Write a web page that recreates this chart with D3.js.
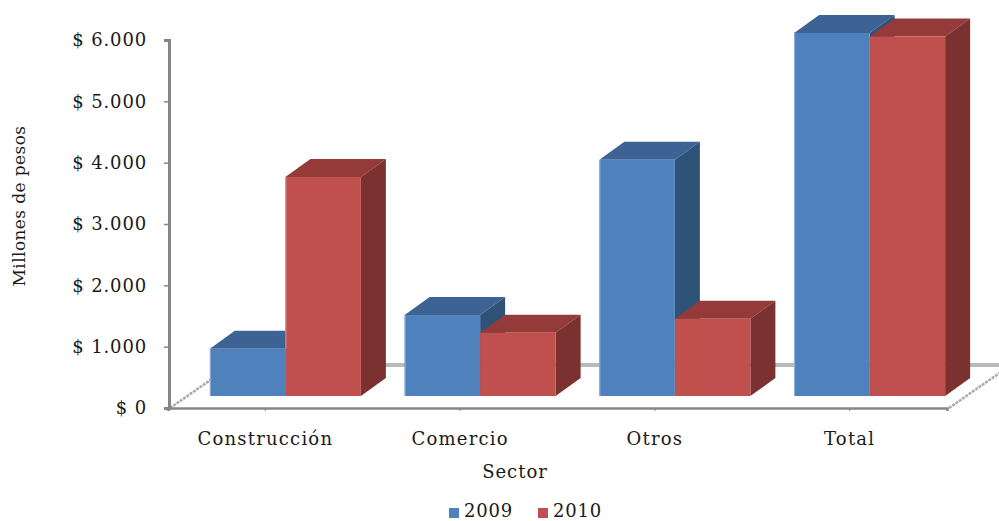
<!DOCTYPE html>
<html>
<head>
<meta charset="utf-8">
<script src="https://cdn.jsdelivr.net/npm/d3@7"></script>
<style>
  html, body { margin: 0; padding: 0; background: #fff; }
  svg { display: block; }
  text { font-family: "DejaVu Serif", serif; fill: #1a1a1a; }
</style>
</head>
<body>
<div id="chart"></div>
<script>
// values
const sectors = ["Construcción", "Comercio", "Otros", "Total"]
const years = ["2009", "2010"]
const values2009 = [770, 1320, 3850, 5920]
const values2010 = [3570, 1030, 1260, 5860]
const yTicks = [0, 1000, 2000, 3000, 4000, 5000, 6000]
const yTickLabels = ["$ 0", "$ 1.000", "$ 2.000", "$ 3.000", "$ 4.000", "$ 5.000", "$ 6.000"]

const width = 999, height = 521

// the fake 3d: how far the back of a bar goes from its front
const depthX = 25, depthY = -18
const floorDrop = 12 // bars stand this much above the front floor edge

const svg = d3.select("#chart").append("svg")
    .attr("width", width)
    .attr("height", height)

const x = d3.scaleBand().domain(sectors).range([168, 947])
const y = d3.scaleLinear().domain([0, 6000]).range([408, 40])
const xInner = d3.scaleBand().domain(years).range([0, 151])

const colors = {
    "2009": { front: "#4f81bd", top: "#3c6393", side: "#2f5279", edge: "#8fb0d6" },
    "2010": { front: "#c0504d", top: "#943b39", side: "#7a3130", edge: "#e0928f" }
}

const line = d3.line()

// back wall line, behind the bars
svg.append("path")
    .attr("d", line([[x.range()[0] + 200, y(0) - 43], [width, y(0) - 43]]))
    .attr("stroke", "#b9b9b9")
    .attr("stroke-width", 4)

// floor side edges
const floorEdges = [x.range()[0], x.range()[1]]
floorEdges.forEach(function(x0) {
    svg.append("path")
        .attr("d", line([[x0 + 2, y(0)], [x0 + 54, y(0) - 36]]))
        .attr("stroke", "#aaaaaa")
        .attr("stroke-width", 2.5)
        .attr("stroke-dasharray", "3 1")
})

// the bars
const bars = []
sectors.forEach(function(sector, i) {
    bars.push({ sector: sector, year: "2009", value: values2009[i], neighbour: 0 })
    bars.push({ sector: sector, year: "2010", value: values2010[i], neighbour: values2009[i] })
})

const groupShift = (x.bandwidth() - 151) / 2 + 20

const bar = svg.selectAll(".bar")
    .data(bars)
    .join("g")
    .attr("class", "bar")

function barBox(d) {
    const left = x(d.sector) + groupShift + xInner(d.year)
    return {
        left: left,
        right: left + xInner.bandwidth(),
        top: y(d.value) - floorDrop,
        bottom: y(0) - floorDrop
    }
}

// top face
bar.append("path")
    .attr("fill", d => colors[d.year].top)
    .attr("d", function(d) {
        const b = barBox(d)
        return line([[b.left, b.top], [b.left + depthX, b.top + depthY], [b.right + depthX, b.top + depthY], [b.right, b.top]]) + "Z"
    })

// right side face
bar.append("path")
    .attr("fill", d => colors[d.year].side)
    .attr("d", function(d) {
        const b = barBox(d)
        return line([[b.right, b.top], [b.right + depthX, b.top + depthY], [b.right + depthX, b.bottom + depthY], [b.right, b.bottom]]) + "Z"
    })

// front face
bar.append("rect")
    .attr("fill", d => colors[d.year].front)
    .attr("x", d => barBox(d).left)
    .attr("y", d => barBox(d).top)
    .attr("width", xInner.bandwidth())
    .attr("height", d => barBox(d).bottom - barBox(d).top)

// lighter left edge, only where it does not touch the neighbouring bar
bar.filter(d => d.value > d.neighbour).append("path")
    .attr("stroke", d => colors[d.year].edge)
    .attr("stroke-width", 1)
    .attr("d", function(d) {
        const b = barBox(d)
        return line([[b.left + 0.5, b.top], [b.left + 0.5, y(d.neighbour) - floorDrop]])
    })

// y axis
const yAxis = svg.append("g")
    .attr("transform", "translate(169,0)")
    .call(d3.axisLeft(y)
        .tickValues(yTicks)
        .tickFormat((d, i) => yTickLabels[i])
        .tickSize(5)
        .tickPadding(17))
yAxis.select(".domain").attr("stroke", "#868686").attr("stroke-width", 3)
yAxis.selectAll(".tick line").attr("stroke", "#868686").attr("stroke-width", 1.5)
yAxis.selectAll("text")
    .style("font-size", "18px")
    .style("letter-spacing", "0.85px")
    .style("font-family", '"DejaVu Serif", serif')
    .attr("fill", "#1a1a1a")

// x axis
const xAxis = svg.append("g")
    .attr("transform", "translate(0,408)")
    .call(d3.axisBottom(x).tickSize(3).tickPadding(21))
xAxis.select(".domain").attr("stroke", "#868686").attr("stroke-width", 2.5)
xAxis.selectAll(".tick line").attr("stroke", "#868686")
xAxis.selectAll("text")
    .style("font-size", "18px")
    .style("letter-spacing", "1.2px")
    .style("font-family", '"DejaVu Serif", serif')
    .attr("fill", "#1a1a1a")

// axis titles
svg.append("text")
    .attr("x", 515)
    .attr("y", 478)
    .attr("text-anchor", "middle")
    .style("font-size", "18px")
    .style("letter-spacing", "1px")
    .text("Sector")

svg.append("text")
    .attr("transform", "translate(25,206) rotate(-90)")
    .attr("text-anchor", "middle")
    .style("font-size", "17px")
    .style("letter-spacing", "0.4px")
    .text("Millones de pesos")

// legend
const legendX = d3.scalePoint().domain(years).range([449, 538])
const legend = svg.selectAll(".legend")
    .data(years)
    .join("g")
    .attr("class", "legend")
    .attr("transform", d => "translate(" + legendX(d) + ",508)")

legend.append("rect")
    .attr("width", 10)
    .attr("height", 10)
    .attr("fill", d => colors[d].front)

legend.append("text")
    .attr("x", 15)
    .attr("y", 8.5)
    .style("font-size", "18px")
    .style("letter-spacing", "0.8px")
    .text(d => d)
</script>
</body>
</html>
